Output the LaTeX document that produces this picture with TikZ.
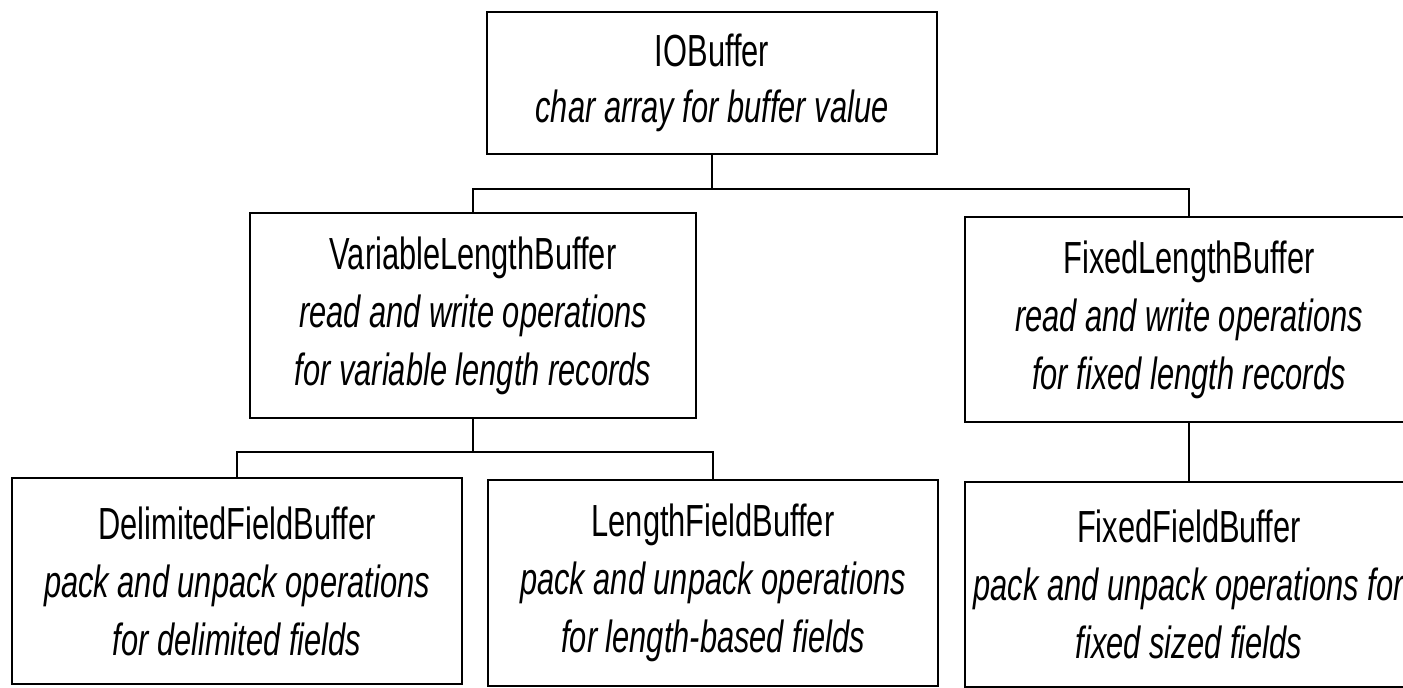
\documentclass[tikz,border=0pt]{standalone}
\usepackage{fontspec}
\setmainfont[FakeStretch=0.685]{Liberation Sans}
\begin{document}
\begin{tikzpicture}[x=0.5pt,y=-0.5pt,
  cls/.style={draw=black,line width=1.1pt,align=center,inner sep=0pt,
    font=\fontsize{22.5}{29}\selectfont},
  link/.style={draw=black,line width=1.1pt}]
\useasboundingbox (0,0) rectangle (1403,688);
\clip (0,0) rectangle (1403,688);
\node[cls,minimum width=225pt,minimum height=71pt] (io) at (712,83)
  {IOBuffer\\[-1pt]\textit{char array for buffer value}};
\node[cls,minimum width=223pt,minimum height=102.5pt] (var) at (473,315.5)
  {VariableLengthBuffer\\\textit{read and write operations}\\\textit{for variable length records}};
\node[cls,minimum width=224pt,minimum height=102.5pt] (fixl) at (1189,319.5)
  {FixedLengthBuffer\\\textit{read and write operations}\\\textit{for fixed length records}};
\node[cls,minimum width=225pt,minimum height=103pt] (del) at (237,581)
  {DelimitedFieldBuffer\\\textit{pack and unpack operations}\\\textit{for delimited fields}};
\node[cls,minimum width=225pt,minimum height=103pt] (len) at (713,583)
  {LengthFieldBuffer\\\textit{pack and unpack operations}\\\textit{for length-based fields}};
\node[cls,minimum width=224pt,minimum height=102.5pt] (fixf) at (1189,584.5)
  {FixedFieldBuffer\\\textit{pack and unpack operations for}\\\textit{fixed sized fields}};
\coordinate (bus1) at (0,189);
\coordinate (bus2) at (0,452);
\draw[link] (io.south) -- (io.south |- bus1);
\draw[link] (var.north) -- (var.north |- bus1) -- (fixl.north |- bus1) -- (fixl.north);
\draw[link] (fixl.south) -- (fixf.north);
\draw[link] (var.south) -- (var.south |- bus2);
\draw[link] (del.north) -- (del.north |- bus2) -- (len.north |- bus2) -- (len.north);
\end{tikzpicture}
\end{document}
